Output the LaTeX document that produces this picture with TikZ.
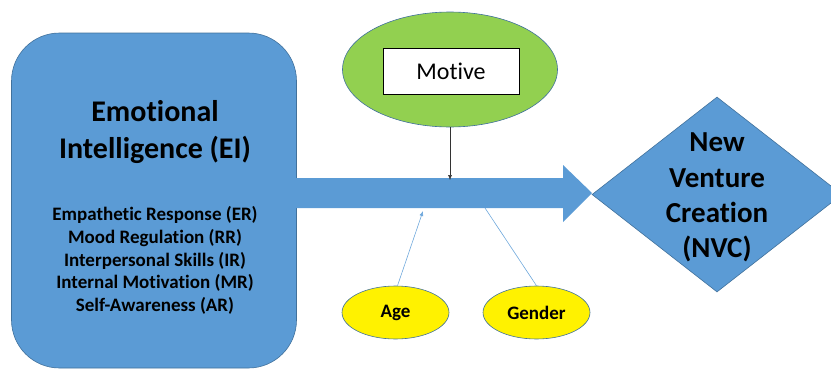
\documentclass[tikz,border=0pt]{standalone}
\usepackage{fontspec}
\setmainfont{Carlito}[RawFeature={-liga;-clig;-calt;-dlig}]
\usetikzlibrary{shapes.geometric,arrows.meta}

\definecolor{eiblue}{HTML}{5B9BD5}
\definecolor{edgeblue}{HTML}{41719C}
\definecolor{motgreen}{HTML}{92D050}
\definecolor{thinblue}{HTML}{6FA8DC}

\tikzset{
  bluebox/.style={draw=edgeblue,fill=eiblue,line width=0.6pt},
  moderator/.style={ellipse,draw=edgeblue,fill=yellow,line width=0.6pt,
    minimum width=107pt,minimum height=53pt,inner sep=0pt,
    font=\fontsize{19}{22}\selectfont\bfseries},
  thinarrow/.style={-{Latex[length=5pt,width=4pt]},thinblue,line width=0.6pt}
}

\begin{document}
\begin{tikzpicture}[x=1pt,y=-1pt]
\useasboundingbox (0,0) rectangle (831,370);
% left box
\node[bluebox,rounded corners=48pt,minimum width=285pt,minimum height=335pt,inner sep=0pt] (ei) at (154,200.5) {};
\node[align=center,font=\fontsize{30}{37}\selectfont\bfseries] (eititle) at (155,132) {Emotional\\Intelligence (EI)};
\node[align=center,font=\fontsize{19}{22.7}\selectfont\bfseries] (eilist) at (155,260.5) {Empathetic Response (ER)\\Mood Regulation (RR)\\Interpersonal Skills (IR)\\Internal Motivation (MR)\\Self-Awareness (AR)};
% main arrow
\fill[eiblue] (296,178) -- (563,178) -- (563,165) -- (592,193) -- (563,222) -- (563,208) -- (296,208) -- cycle;
\coordinate (mtop) at (450,180);
\coordinate (abot) at (423,211);
\coordinate (gbot) at (485,208);
% outcome
\node[diamond,bluebox,minimum width=250pt,minimum height=195pt,inner sep=0pt] (nvc) at (717,194.5) {};
\node[align=center,font=\fontsize{29}{35.3}\selectfont\bfseries] (nvctext) at (717,197.5) {New\\Venture\\Creation\\(NVC)};
% motive
\node[ellipse,draw=edgeblue,fill=motgreen,line width=0.6pt,minimum width=215pt,minimum height=115pt] (motell) at (450,69.5) {};
\node[draw=black,fill=white,line width=0.8pt,minimum width=136pt,minimum height=46pt,
  font=\fontsize{24}{28}\selectfont] (motive) at (451,71) {Motive};
\draw[-{Latex[length=5pt,width=4pt]},black!80,line width=0.5pt] (motell.south) -- (mtop);
% moderators
\node[moderator] (age) at (395.5,312.5) {Age};
\node[moderator] (gender) at (536.5,312.5) {Gender};
\draw[thinarrow] (age.north) ++(2,0) -- (abot);
\draw[thinblue,line width=0.6pt] (gender.north) -- (gbot);
\end{tikzpicture}
\end{document}
